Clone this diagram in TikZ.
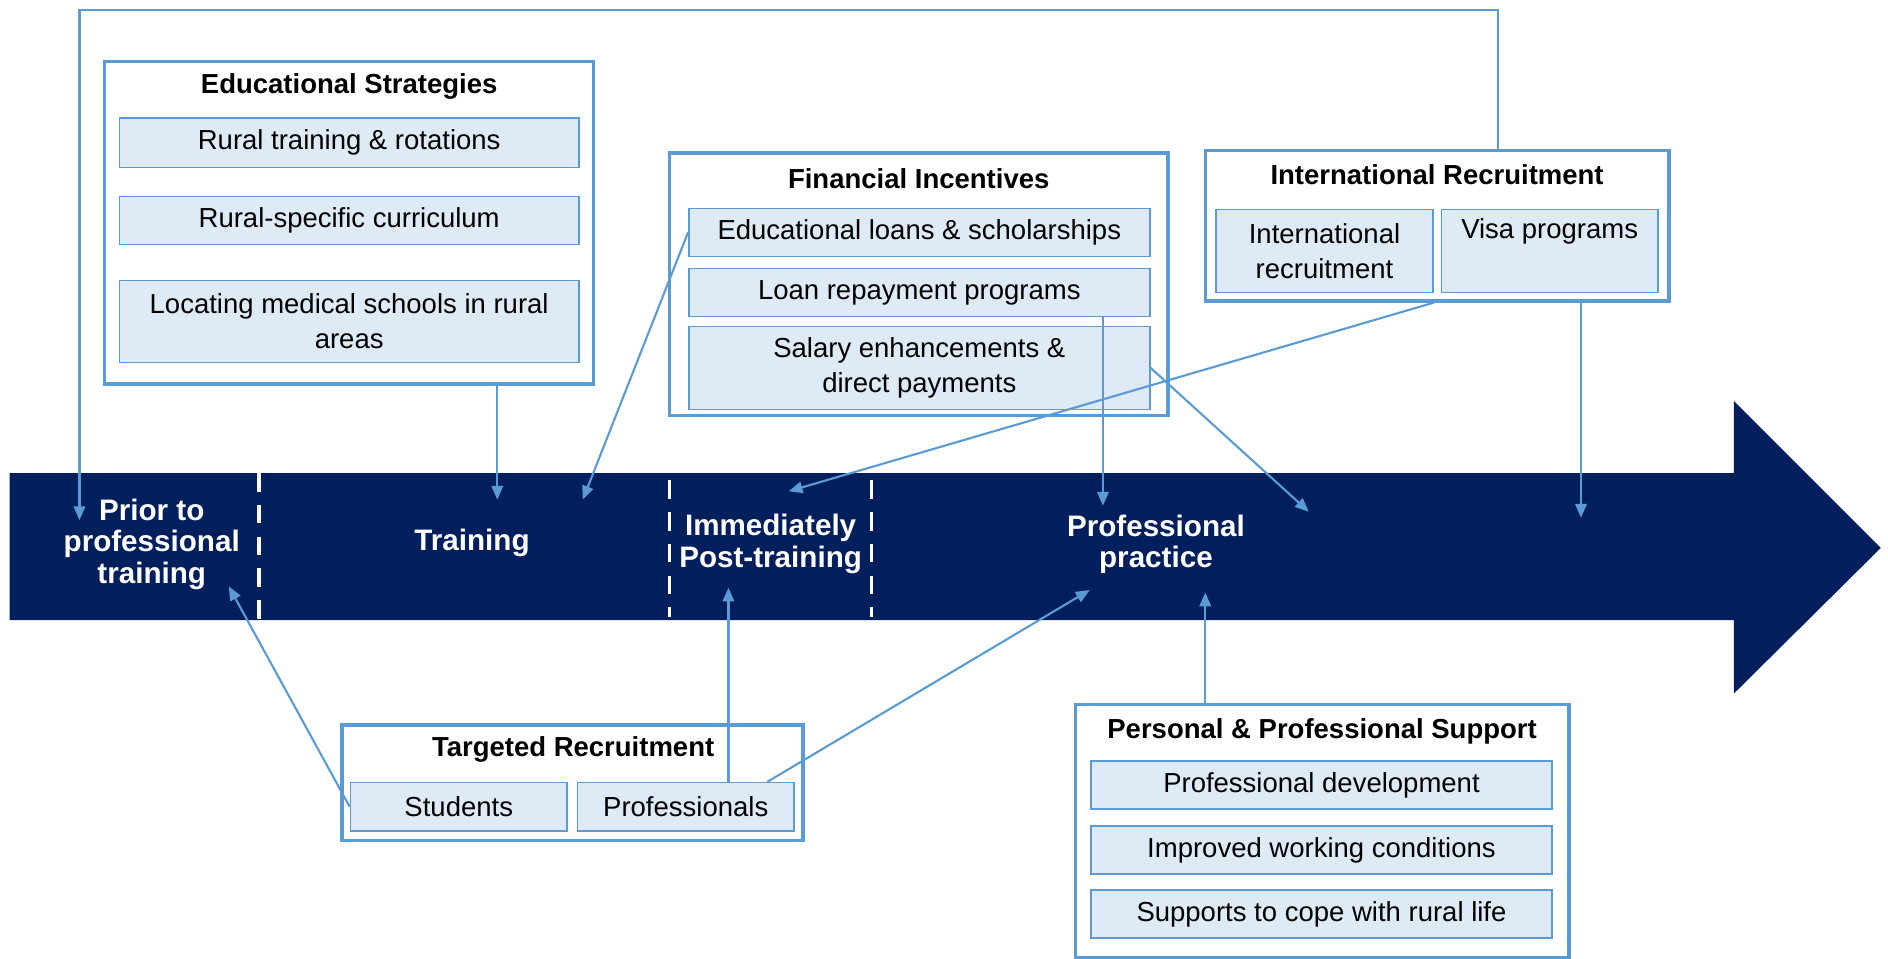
\documentclass[tikz,border=0pt]{standalone}
\usepackage{fontspec}
\setmainfont{Liberation Sans}
\usetikzlibrary{arrows.meta}
\definecolor{boxblue}{HTML}{5B9BD5}
\definecolor{subfill}{HTML}{DEEAF6}
\definecolor{navy}{HTML}{001F5C}

\begin{document}
\begin{tikzpicture}[x=0.02cm, y=-0.02cm,
  group/.style={draw=boxblue, line width=1.6pt, inner sep=0pt},
  item/.style={draw=boxblue, fill=subfill, line width=0.7pt, inner sep=0pt, align=center, font=\fontsize{13}{16.5}\selectfont},
  grouptitle/.style={font=\fontsize{13}{15}\selectfont\bfseries},
  stage/.style={text=white, align=center, font=\fontsize{14}{15}\selectfont\bfseries},
  divider/.style={white, line width=1.6pt, dash pattern=on 8.7pt off 6.3pt},
  link/.style={draw=boxblue, line width=1pt, -{Triangle[length=2.3mm,width=1.9mm]}}]

\useasboundingbox (0,0) rectangle (1568,796);

% timeline arrow
\fill[navy] (8,393) -- (1440,393) -- (1440,333) -- (1562,455) -- (1440,576) -- (1440,515) -- (8,515) -- cycle;
\draw[divider] (215,393) -- (215,515);
\draw[divider] (556,399) -- (556,512);
\draw[divider] (724,399) -- (724,512);

\node[stage] (stagePrior) at (126,452) {Prior to\\professional\\training};
\node[stage] (stageTrain) at (392,451) {Training};
\node[stage] (stagePost) at (640,452) {Immediately\\Post-training};
\node[stage] (stagePract) at (960,452) {Professional\\practice};

% educational strategies
\node[group, minimum width=8.12cm, minimum height=5.36cm] (edu) at (290,185) {};
\node[grouptitle] at (290,72) {Educational Strategies};
\node[item, minimum width=7.64cm, minimum height=0.82cm] (eduRural) at (290,118.5) {Rural training \& rotations};
\node[item, minimum width=7.64cm, minimum height=0.8cm] (eduCurr) at (290,183) {Rural-specific curriculum};
\node[item, minimum width=7.64cm, minimum height=1.36cm] (eduSchools) at (290,267) {Locating medical schools in rural\\areas};

% financial incentives
\node[group, minimum width=8.28cm, minimum height=4.36cm] (fin) at (763,236) {};
\node[grouptitle] at (763,148) {Financial Incentives};
\node[item, minimum width=7.66cm, minimum height=0.8cm] (finLoans) at (763.5,193) {Educational loans \& scholarships};
\node[item, minimum width=7.66cm, minimum height=0.8cm] (finRepay) at (763.5,243) {Loan repayment programs};
\node[item, minimum width=7.66cm, minimum height=1.38cm] (finSalary) at (763.5,305.5) {Salary enhancements \&\\direct payments};

% international recruitment
\node[group, minimum width=7.7cm, minimum height=2.5cm] (intl) at (1193.5,187.5) {};
\node[grouptitle] at (1193.5,145) {International Recruitment};
\node[item, minimum width=3.6cm, minimum height=1.38cm] (intlRec) at (1100,208.5) {International\\recruitment};
\node[item, minimum width=3.6cm, minimum height=1.38cm] (intlVisa) at (1287,208.5) {Visa programs\\\strut};

% targeted recruitment
\node[group, minimum width=7.66cm, minimum height=1.92cm] (targ) at (475.5,650) {};
\node[grouptitle] at (476,622) {Targeted Recruitment};
\node[item, minimum width=3.6cm, minimum height=0.8cm] (targStud) at (381,670) {Students};
\node[item, minimum width=3.6cm, minimum height=0.8cm] (targProf) at (569.5,670) {Professionals};

% personal and professional support
\node[group, minimum width=8.2cm, minimum height=4.2cm] (supp) at (1098,690) {};
\node[grouptitle] at (1098,607) {Personal \& Professional Support};
\node[item, minimum width=7.66cm, minimum height=0.8cm] (suppDev) at (1097.5,652) {Professional development};
\node[item, minimum width=7.66cm, minimum height=0.8cm] (suppCond) at (1097.5,706) {Improved working conditions};
\node[item, minimum width=7.66cm, minimum height=0.8cm] (suppLife) at (1097.5,759) {Supports to cope with rural life};

% connectors
\coordinate (topL) at (66,8);
\coordinate (topR) at (1244,8);
\coordinate (inPrior) at (66,432);
\coordinate (inPrior2) at (190,487);
\coordinate (inTrain) at (413,415);
\coordinate (inTrain2) at (484,415);
\coordinate (inPost) at (655,408);
\coordinate (inPost2) at (605,488);
\coordinate (inPract1) at (916,420);
\coordinate (inPract2) at (1087,425);
\coordinate (inPract3) at (1313,430);
\coordinate (inPract4) at (905,490);
\coordinate (inPract5) at (1001,492);

\draw[link] (topR |- intl.north) -- (topR) -- (topL) -- (inPrior);
\draw[link] (edu.south -| inTrain) -- (inTrain);
\draw[link] (finLoans.west) -- (inTrain2);
\draw[link] (finRepay.south -| inPract1) -- (inPract1);
\draw[link] (finSalary.east) -- (inPract2);
\draw[link] (intlRec.east |- intl.south) -- (inPost);
\draw[link] (intl.south -| inPract3) -- (inPract3);
\draw[link] (targStud.west) -- (inPrior2);
\draw[link] (targProf.north -| inPost2) -- (inPost2);
\draw[link] ([xshift=-0.46cm]targProf.north east) -- (inPract4);
\draw[link] (supp.north -| inPract5) -- (inPract5);

\end{tikzpicture}
\end{document}
